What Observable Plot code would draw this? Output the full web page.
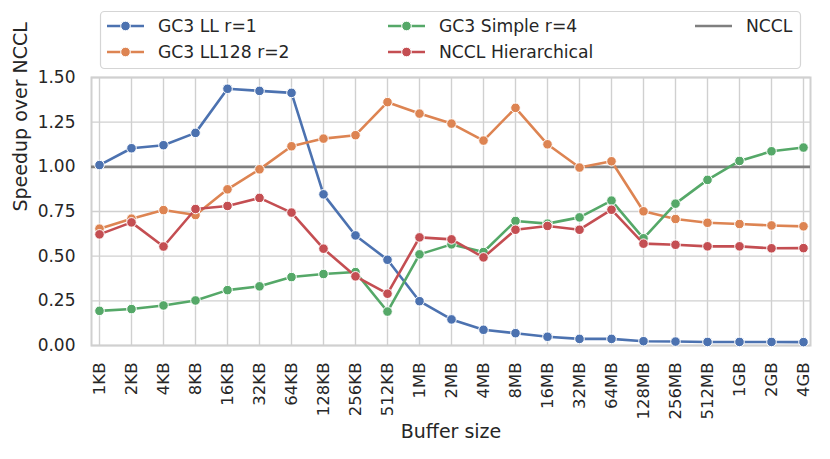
<!DOCTYPE html>
<html>
<head>
<meta charset="utf-8">
<script src="https://cdn.jsdelivr.net/npm/d3@7"></script>
<script src="https://cdn.jsdelivr.net/npm/@observablehq/plot@0.6"></script>
<style>
  body { margin: 0; background: #fff; }
  #wrap { position: relative; width: 830px; height: 459px; font-family: "DejaVu Sans", sans-serif; }
  #legend { position: absolute; left: 0; top: 0; }
</style>
</head>
<body>
<div id="wrap"></div>
<script>
const sizes = ["1KB","2KB","4KB","8KB","16KB","32KB","64KB","128KB","256KB","512KB","1MB","2MB","4MB","8MB","16MB","32MB","64MB","128MB","256MB","512MB","1GB","2GB","4GB"];

const gc3LL = [1.01,1.104,1.121,1.19,1.437,1.425,1.414,0.846,0.616,0.48,0.248,0.146,0.088,0.069,0.049,0.037,0.037,0.024,0.022,0.02,0.02,0.02,0.019];
const gc3LL128 = [0.654,0.71,0.758,0.73,0.874,0.986,1.115,1.158,1.177,1.362,1.298,1.242,1.147,1.33,1.126,0.996,1.031,0.751,0.708,0.687,0.68,0.672,0.667];
const gc3Simple = [0.194,0.204,0.224,0.252,0.31,0.331,0.383,0.40,0.411,0.19,0.51,0.566,0.523,0.697,0.682,0.717,0.811,0.60,0.794,0.927,1.033,1.087,1.108];
const ncclHier = [0.622,0.689,0.554,0.764,0.781,0.826,0.744,0.542,0.387,0.29,0.605,0.594,0.493,0.648,0.669,0.648,0.76,0.57,0.564,0.555,0.555,0.544,0.545];
const ncclBaseline = [1.0];

const seriesNames = ["GC3 LL r=1","GC3 LL128 r=2","GC3 Simple r=4","NCCL Hierarchical"];
const seriesValues = [gc3LL, gc3LL128, gc3Simple, ncclHier];
const seriesColors = ["#4c72b0","#dd8452","#55a868","#c44e52"];
const ncclName = "NCCL";
const ncclColor = "#7f7f7f";
const yTicks = [0, 0.25, 0.5, 0.75, 1.0, 1.25, 1.5];
const xLabel = "Buffer size";
const yLabel = "Speedup over NCCL";

const textColor = "#262626";
const gridColor = "#d0d0d0";

const seriesMarks = [];
seriesNames.forEach((name, i) => {
  const rows = sizes.map((s, j) => ({size: s, value: seriesValues[i][j]}));
  seriesMarks.push(Plot.line(rows, {x: "size", y: "value", stroke: seriesColors[i], strokeWidth: 2.6}));
  seriesMarks.push(Plot.dot(rows, {x: "size", y: "value", fill: seriesColors[i], r: 4.8, stroke: "white", strokeWidth: 1}));
});

const chart = Plot.plot({
  width: 830,
  height: 459,
  marginLeft: 91,
  marginRight: 20,
  marginTop: 77,
  marginBottom: 114,
  style: {fontFamily: "DejaVu Sans, sans-serif", background: "white", color: textColor},
  x: {type: "point", domain: sizes, padding: 0},
  y: {domain: [0, 1.5]},
  marks: [
    Plot.gridX(sizes, {stroke: gridColor, strokeOpacity: 1, strokeWidth: 1.4}),
    Plot.gridY(yTicks, {stroke: gridColor, strokeOpacity: 1, strokeWidth: 1.4}),
    Plot.frame({stroke: gridColor, strokeWidth: 2}),
    Plot.axisY(yTicks, {tickSize: 0, tickPadding: 16, tickFormat: d3.format(".2f"), fontSize: 17, fill: textColor, label: null}),
    Plot.axisX(sizes, {tickSize: 0, tickPadding: 17, tickRotate: -90, fontSize: 16.5, fill: textColor, label: null}),
    Plot.ruleY(ncclBaseline, {stroke: ncclColor, strokeWidth: 2.6}),
    ...seriesMarks,
    Plot.text([yLabel], {frameAnchor: "left", dx: -71, rotate: -90, text: d => d, fontSize: 19, fill: textColor}),
    Plot.text([xLabel], {frameAnchor: "bottom", dy: 92, text: d => d, fontSize: 19, fill: textColor})
  ]
});

const wrap = document.getElementById("wrap");
wrap.appendChild(chart);

// Legend overlay (matplotlib-style, 3 columns)
const legendItems = [
  {name: seriesNames[0], color: seriesColors[0], marker: true, col: 0, row: 0},
  {name: seriesNames[1], color: seriesColors[1], marker: true, col: 0, row: 1},
  {name: seriesNames[2], color: seriesColors[2], marker: true, col: 1, row: 0},
  {name: seriesNames[3], color: seriesColors[3], marker: true, col: 1, row: 1},
  {name: ncclName, color: ncclColor, marker: false, col: 2, row: 0}
];
const colX = [107, 388, 695];
const rowY = [26, 52];
const svg = d3.create("svg").attr("id", "legend").attr("width", 830).attr("height", 76);
svg.append("rect").attr("x", 100.5).attr("y", 11.5).attr("width", 700).attr("height", 57)
  .attr("rx", 4).attr("fill", "white").attr("fill-opacity", 0.8).attr("stroke", "#d5d5d5").attr("stroke-width", 1.2);
legendItems.forEach(it => {
  const x0 = colX[it.col], y0 = rowY[it.row];
  const g = svg.append("g");
  g.append("line").attr("x1", x0).attr("x2", x0 + 37).attr("y1", y0).attr("y2", y0)
    .attr("stroke", it.color).attr("stroke-width", 2.6);
  if (it.marker) g.append("circle").attr("cx", x0 + 18.5).attr("cy", y0).attr("r", 4.8)
    .attr("fill", it.color).attr("stroke", "white").attr("stroke-width", 1);
  g.append("text").attr("x", x0 + 51).attr("y", y0).attr("dy", "0.35em")
    .attr("font-family", "DejaVu Sans, sans-serif").attr("font-size", 17.2).attr("fill", textColor).text(it.name);
});
wrap.appendChild(svg.node());
</script>
</body>
</html>
